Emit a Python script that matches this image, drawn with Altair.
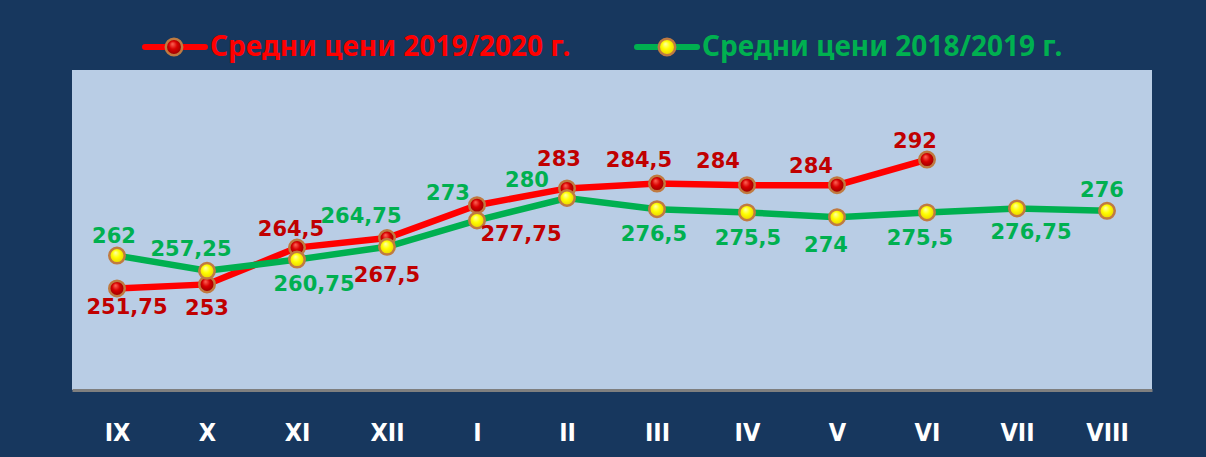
import altair as alt
import pandas as pd

months = ["IX", "X", "XI", "XII", "I", "II", "III", "IV", "V", "VI", "VII", "VIII"]
series_names = ["Средни цени 2019/2020 г.", "Средни цени 2018/2019 г."]
prices_2019_2020 = [251.75, 253, 264.5, 267.5, 277.75, 283, 284.5, 284, 284, 292]
prices_2018_2019 = [262, 257.25, 260.75, 264.75, 273, 280, 276.5, 275.5, 274, 275.5, 276.75, 276]

# label placement offsets (pixels, relative to each point)
red_label_dx = [10, 0, -6, 0, 44, -8, -18, -29, -26, -12]
red_label_dy = [20, 25, -18, 38, 30, -28, -23, -23, -18, -18]
green_label_dx = [-3, -16, 17, -26, -29, -40, -3, 1, -11, -7, 14, -5]
green_label_dy = [-19, -21, 25, -30, -26, -17, 26, 27, 29, 27, 25, -20]

RED = "#FF0000"
RED_TXT = "#C00000"
GREEN = "#00B050"
NAVY = "#17375E"
PLOT_BG = "#B9CDE5"


def fmt(v):
    return f"{v:g}".replace(".", ",")


red_df = pd.DataFrame({"month": months[:len(prices_2019_2020)], "price": prices_2019_2020,
                       "label": [fmt(v) for v in prices_2019_2020]})
green_df = pd.DataFrame({"month": months, "price": prices_2018_2019,
                         "label": [fmt(v) for v in prices_2018_2019]})

xenc = alt.X("month:N", sort=months,
             scale=alt.Scale(type="point", padding=0.5, domain=months),
             axis=alt.Axis(title=None, labelColor="white", labelFont="DejaVu Sans Condensed, DejaVu Sans",
                           labelFontWeight="bold", labelFontSize=25, labelAngle=0,
                           ticks=False, tickSize=0, labelPadding=42, labelBaseline="middle",
                           domainColor="#7F7F7F", domainWidth=3, grid=False))
yenc = alt.Y("price:Q", scale=alt.Scale(domain=[220, 320], zero=False, nice=False), axis=None)

red_grad = {"gradient": "radial", "x1": 0.4, "y1": 0.3, "r1": 0.0, "x2": 0.5, "y2": 0.5, "r2": 0.55,
            "stops": [{"offset": 0, "color": "#FF6A5A"}, {"offset": 0.45, "color": "#D80000"},
                      {"offset": 1, "color": "#8A0000"}]}
yel_grad = {"gradient": "radial", "x1": 0.4, "y1": 0.3, "r1": 0.0, "x2": 0.5, "y2": 0.5, "r2": 0.55,
            "stops": [{"offset": 0, "color": "#FFFFB0"}, {"offset": 0.45, "color": "#FFFF00"},
                      {"offset": 1, "color": "#E6C800"}]}
RIM = "#C07A40"

red_line = alt.Chart(red_df).mark_line(color=RED, strokeWidth=6.5).encode(x=xenc, y=yenc)
green_line = alt.Chart(green_df).mark_line(color=GREEN, strokeWidth=6.5).encode(x=xenc, y=yenc)
red_pts = alt.Chart(red_df).mark_point(shape="circle", filled=True, size=240, fill=red_grad,
                                       stroke=RIM, strokeWidth=2.5, opacity=1).encode(x=xenc, y=yenc)
green_pts = alt.Chart(green_df).mark_point(shape="circle", filled=True, size=240, fill=yel_grad,
                                           stroke=RIM, strokeWidth=2.5, opacity=1).encode(x=xenc, y=yenc)

layers = [red_line, green_line, red_pts, green_pts]

for i, m in enumerate(red_df["month"]):
    layers.append(
        alt.Chart(red_df).transform_filter(alt.datum.month == m)
        .mark_text(font="DejaVu Sans", fontWeight="bold", fontSize=21, color=RED_TXT,
                   dx=red_label_dx[i], dy=red_label_dy[i], baseline="middle", align="center")
        .encode(x=xenc, y=yenc, text="label:N"))
for i, m in enumerate(green_df["month"]):
    layers.append(
        alt.Chart(green_df).transform_filter(alt.datum.month == m)
        .mark_text(font="DejaVu Sans", fontWeight="bold", fontSize=21, color=GREEN,
                   dx=green_label_dx[i], dy=green_label_dy[i], baseline="middle", align="center")
        .encode(x=xenc, y=yenc, text="label:N"))

# legend (manual)
legend_items = [
    (series_names[0], RED, red_grad, 73, 133, 102, 138),
    (series_names[1], GREEN, yel_grad, 565, 625, 595, 630),
]
for name, col, grad, lx1, lx2, px, tx in legend_items:
    ldf = pd.DataFrame({"series": [name]})
    layers.append(alt.Chart(ldf).mark_rule(color=col, strokeWidth=6, strokeCap="round")
                  .encode(x=alt.value(lx1), x2=alt.value(lx2), y=alt.value(-23)))
    layers.append(alt.Chart(ldf).mark_point(shape="circle", filled=True, size=270, fill=grad,
                                            stroke=RIM, strokeWidth=2.5, opacity=1)
                  .encode(x=alt.value(px), y=alt.value(-23)))
    layers.append(alt.Chart(ldf).mark_text(font="Noto Sans", fontWeight="bold",
                                           fontSize=28, color=col, align="left", baseline="middle")
                  .encode(x=alt.value(tx), y=alt.value(-22), text="series:N"))

chart = alt.layer(*layers).properties(
    width=1080, height=320,
    autosize=alt.AutoSizeParams(type="none"),
    padding={"left": 72, "top": 70, "right": 54, "bottom": 67},
    background=NAVY,
).configure_view(fill=PLOT_BG, strokeWidth=0)

chart.save("out.html", embed_options={"renderer": "svg", "actions": False})
